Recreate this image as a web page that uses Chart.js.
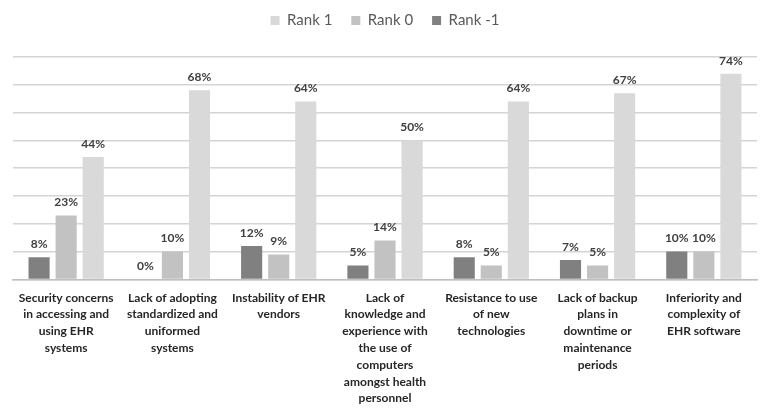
<!DOCTYPE html>
<html>
<head>
<meta charset="utf-8">
<script src="https://cdn.jsdelivr.net/npm/chart.js@4/dist/chart.umd.min.js"></script>
<style>
  html, body { margin: 0; padding: 0; background: #ffffff; }
  #wrap { width: 763px; height: 415px; position: relative; }
</style>
</head>
<body>
<div id="wrap"><canvas id="c" width="763" height="415"></canvas></div>
<script>
// Barriers to EHR adoption, share of respondents per rank (%)
const categories = [
  ["Security concerns", "in accessing and", "using EHR", "systems"],
  ["Lack of adopting", "standardized and", "uniformed", "systems"],
  ["Instability of EHR", "vendors"],
  ["Lack of", "knowledge and", "experience with", "the use of", "computers", "amongst health", "personnel"],
  ["Resistance to use", "of new", "technologies"],
  ["Lack of backup", "plans in", "downtime or", "maintenance", "periods"],
  ["Inferiority and", "complexity of", "EHR software"]
];
const rankMinus1 = [8, 0, 12, 5, 8, 7, 10];
const rank0 = [23, 10, 9, 14, 5, 5, 10];
const rank1 = [44, 68, 64, 50, 64, 67, 74];
const yTicks = [0, 10, 20, 30, 40, 50, 60, 70, 80];

// Percent labels above every bar
const barValueLabels = {
  id: 'barValueLabels',
  afterDatasetsDraw(chart) {
    const ctx = chart.ctx;
    ctx.save();
    ctx.font = 'bold 12px Lato, "Open Sans", sans-serif';
    ctx.fillStyle = '#404040';
    ctx.textAlign = 'center';
    ctx.textBaseline = 'bottom';
    chart.data.datasets.forEach((ds, i) => {
      const meta = chart.getDatasetMeta(i);
      meta.data.forEach((bar, j) => {
        ctx.fillText(ds.data[j] + '%', bar.x, bar.y - 7);
      });
    });
    ctx.restore();
  }
};

// Extra space between the legend and the plot area
const legendGap = {
  id: 'legendGap',
  beforeLayout(chart) {
    const legend = chart.legend;
    if (legend && !legend._gapAdded) {
      const fit = legend.fit;
      legend.fit = function () {
        fit.call(this);
        this.height += 19;
      };
      legend._gapAdded = true;
    }
  }
};

new Chart(document.getElementById('c'), {
  type: 'bar',
  data: {
    labels: categories,
    datasets: [
      { label: 'Rank -1', data: rankMinus1, backgroundColor: '#808080' },
      { label: 'Rank 0', data: rank0, backgroundColor: '#c2c2c2' },
      { label: 'Rank 1', data: rank1, backgroundColor: '#d9d9d9' }
    ]
  },
  options: {
    responsive: false,
    animation: false,
    devicePixelRatio: 1,
    categoryPercentage: 0.764,
    barPercentage: 0.78,
    layout: { padding: { left: 13, right: 6, top: -6, bottom: -2 } },
    plugins: {
      legend: {
        position: 'top',
        reverse: true,
        labels: {
          boxWidth: 9,
          boxHeight: 9,
          padding: 19,
          color: '#595959',
          font: { family: 'Lato, "Open Sans", sans-serif', size: 15 }
        }
      },
      tooltip: { enabled: false }
    },
    scales: {
      x: {
        grid: { display: false, drawTicks: false },
        border: { display: true, color: '#bfbfbf', width: 1.5 },
        ticks: {
          autoSkip: false,
          maxRotation: 0,
          minRotation: 0,
          padding: 10,
          color: '#262626',
          font: { family: 'Lato, "Open Sans", sans-serif', size: 12, weight: 'bold', lineHeight: 1.4 }
        }
      },
      y: {
        min: 0,
        max: 80,
        afterBuildTicks(scale) { scale.ticks = yTicks.map(v => ({ value: v })); },
        grid: { color: '#d4d4d4', lineWidth: 1.5, drawTicks: false },
        border: { display: false },
        ticks: { display: false }
      }
    }
  },
  plugins: [legendGap, barValueLabels]
});
</script>
</body>
</html>
